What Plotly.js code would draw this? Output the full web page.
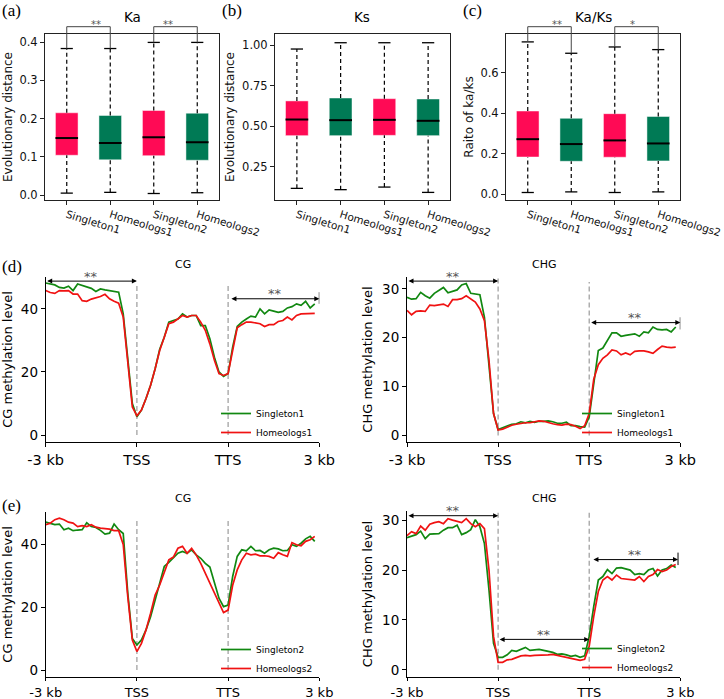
<!DOCTYPE html>
<html><head><meta charset="utf-8">
<script src="https://cdn.plot.ly/plotly-3.0.1.min.js"></script>
<style>body{margin:0;background:#fff}</style>
</head><body><div id="chart" style="width:724px;height:699px"></div>
<script>
// ---------- DATA ----------
const groups = ['Singleton1','Homeologs1','Singleton2','Homeologs2'];
const groupPos = [1,2,3,4];
// Ka box stats
const kaLow  = [0.005,0.007,0.004,0.006];
const kaQ1   = [0.104,0.092,0.103,0.091];
const kaMed  = [0.149,0.136,0.151,0.138];
const kaQ3   = [0.215,0.208,0.221,0.214];
const kaHigh = [0.383,0.383,0.399,0.399];
// Ks box stats
const ksLow  = [0.115,0.107,0.123,0.090];
const ksQ1   = [0.441,0.441,0.443,0.441];
const ksMed  = [0.541,0.537,0.539,0.533];
const ksQ3   = [0.656,0.674,0.670,0.668];
const ksHigh = [0.977,1.016,1.016,1.016];
// Ka/Ks box stats
const rLow  = [0.008,0.011,0.008,0.011];
const rQ1   = [0.183,0.162,0.182,0.164];
const rMed  = [0.271,0.247,0.265,0.250];
const rQ3   = [0.410,0.374,0.397,0.383];
const rHigh = [0.751,0.695,0.726,0.713];

// methylation profiles: 60 bins, -3kb..TSS (20), gene body (20), TTS..3kb (20)
const bins = [0,1,2,3,4,5,6,7,8,9,10,11,12,13,14,15,16,17,18,19,20,21,22,23,24,25,26,27,28,29,30,31,32,33,34,35,36,37,38,39,40,41,42,43,44,45,46,47,48,49,50,51,52,53,54,55,56,57,58,59];
const binTicks = [0,20,40,60];
const binLabels = ['-3 kb','TSS','TTS','3 kb'];

const cgSingleton1 = [48.2,47.9,47.6,46.8,46.6,47.2,45.8,47.9,47.5,47.1,46.5,45.5,46.3,46.0,45.8,45.5,45.3,38.4,23.7,10.0,5.8,
  7.9,11.6,15.8,21.0,27.2,31.0,35.8,36.3,36.8,38.4,37.4,37.9,37.9,34.7,34.7,30.5,24.7,20.0,18.6,19.5,
  27.9,34.4,35.8,36.8,37.7,37.4,40.0,38.4,39.7,39.3,38.9,39.2,40.3,40.7,41.6,41.1,42.4,40.3,41.6];
const cgHomeologs1 = [45.8,45.2,44.9,45.8,45.7,45.8,44.7,44.7,42.6,42.4,43.1,43.5,43.9,44.6,43.2,42.4,41.8,37.4,22.6,8.9,6.1,
  7.9,11.6,15.8,21.0,26.8,31.0,35.3,35.8,36.8,37.9,37.4,37.9,37.9,35.8,33.2,28.9,23.7,19.5,18.9,19.5,
  26.8,34.0,35.0,35.8,35.8,35.5,35.3,34.4,35.0,35.0,36.0,36.3,37.4,36.5,37.9,38.4,38.4,38.4,38.6];
const chgSingleton1 = [28.3,27.9,28.0,29.3,28.6,28.1,29.1,29.7,30.3,29.2,29.5,29.8,30.8,31.1,29.1,28.9,28.8,24.2,14.7,4.5,1.2,
  1.6,2.0,2.3,2.4,2.8,2.6,2.9,2.7,2.9,2.9,3.0,2.8,2.5,2.5,2.7,2.0,2.0,1.8,1.7,3.8,
  11.0,17.4,17.9,19.5,21.0,21.0,20.3,20.5,20.6,20.8,20.3,21.2,21.0,22.2,21.7,21.6,21.7,21.2,22.2];
const chgHomeologs1 = [25.6,24.7,25.4,25.5,25.4,26.7,26.6,26.8,26.9,26.4,27.8,27.8,28.0,28.6,28.0,27.3,25.9,23.5,15.4,4.5,1.1,
  1.3,1.7,2.1,2.3,2.5,2.6,2.6,2.8,3.0,2.9,2.6,2.4,2.2,2.1,2.3,2.2,1.9,1.4,2.0,4.5,
  11.5,14.5,15.8,16.5,17.5,17.3,16.5,16.9,16.5,17.2,17.3,17.3,17.1,16.8,17.6,18.3,18.1,18.0,18.1];
const cgSingleton2 = [47.1,46.8,46.3,46.5,44.7,45.2,44.4,44.6,44.7,46.9,45.7,45.4,44.5,43.3,43.6,46.5,44.7,43.5,24.5,10.1,8.0,
  9.6,12.8,17.0,22.3,27.7,33.0,34.3,35.6,37.2,37.8,37.2,38.3,36.7,35.6,34.0,32.8,27.7,22.9,20.2,20.7,
  29.8,36.2,38.3,38.0,39.4,38.0,38.1,37.2,38.3,38.8,38.6,38.0,38.1,39.9,39.4,40.4,41.8,42.6,41.0];
const cgHomeologs2 = [46.3,46.8,47.9,48.4,47.9,47.1,46.8,45.7,46.0,45.7,46.3,45.5,45.2,45.1,44.9,44.4,44.4,40.0,23.4,9.6,5.9,
  8.5,12.8,18.1,23.9,27.1,30.9,35.1,36.0,38.8,39.4,37.2,38.8,36.7,34.0,30.9,27.7,24.5,21.3,18.3,19.1,
  27.0,31.9,35.1,37.2,36.7,36.9,36.4,36.4,36.2,35.6,37.4,36.7,36.2,40.6,39.9,39.6,41.0,41.5,42.6];
const chgSingleton2 = [26.5,26.8,27.1,27.8,26.3,27.2,27.3,27.3,28.0,28.5,28.5,29.0,27.1,27.5,28.1,30.1,28.7,25.3,16.0,5.3,2.5,
  2.5,3.0,3.9,3.7,4.1,4.5,3.9,4.0,4.1,3.9,3.7,3.5,3.1,3.2,3.0,2.7,2.9,2.5,2.8,6.7,
  12.7,18.0,18.7,20.1,19.3,20.4,20.5,20.3,20.0,19.1,19.3,19.1,20.0,20.3,18.8,20.0,20.3,21.0,20.5];
const chgHomeologs2 = [26.9,27.7,27.3,28.8,28.0,29.2,29.5,29.7,29.3,30.3,30.0,29.8,29.5,30.3,29.3,28.7,29.3,28.3,20.0,6.7,1.5,
  1.5,2.0,2.1,2.5,2.8,2.9,2.8,2.9,2.9,3.0,3.0,3.1,2.9,2.7,2.5,2.3,2.0,1.9,2.1,4.7,
  10.7,15.7,18.0,18.7,18.0,19.0,18.3,18.2,18.2,18.0,18.7,17.7,18.7,19.1,20.1,19.7,20.0,20.7,21.1];

// ---------- LAYOUT HELPERS ----------
const W = 724, H = 699;
const fx = p => p / W;
const fy = p => 1 - p / H;
const FONT = 'DejaVu Sans';
const PINK = '#FF0A55', TEAL = '#007A55';
const boxColors = [PINK, TEAL, PINK, TEAL];
const GREEN = '#118811', RED = '#F01212';

const traces = [];
const shapes = [];
const annotations = [];

function addBoxes(n, low, q1, med, q3, high) {
  const xa = 'x' + (n === 1 ? '' : n), ya = 'y' + (n === 1 ? '' : n);
  traces.push({type:'bar', x:groupPos, base:q1, y:q3.map((v,i)=>v-q1[i]), width:0.52,
    marker:{color:boxColors, line:{color:'rgba(255,255,255,0.6)', width:0.8}},
    xaxis:xa, yaxis:ya, showlegend:false, hoverinfo:'skip'});
  const wx=[], wy=[], cx=[], cy=[], mx=[], my=[];
  groupPos.forEach((p,i)=>{
    wx.push(p,p,null,p,p,null); wy.push(low[i],q1[i],null,q3[i],high[i],null);
    cx.push(p-0.14,p+0.14,null,p-0.14,p+0.14,null); cy.push(low[i],low[i],null,high[i],high[i],null);
    mx.push(p-0.26,p+0.26,null); my.push(med[i],med[i],null);
  });
  traces.push({type:'scatter', mode:'lines', x:wx, y:wy, line:{color:'#000', width:1.2, dash:'4px,3px'}, xaxis:xa, yaxis:ya, showlegend:false, hoverinfo:'skip'});
  traces.push({type:'scatter', mode:'lines', x:cx, y:cy, line:{color:'#000', width:1.3}, xaxis:xa, yaxis:ya, showlegend:false, hoverinfo:'skip'});
  traces.push({type:'scatter', mode:'lines', x:mx, y:my, line:{color:'#000', width:2}, xaxis:xa, yaxis:ya, showlegend:false, hoverinfo:'skip'});
}

function bracket(n, i, j, capI, capJ, yr, label) {
  const xr = [0.5, 4.5];
  const xs = 'x' + (n === 1 ? '' : n) + ' domain', ys = 'y' + (n === 1 ? '' : n) + ' domain';
  const xf = v => (v - xr[0]) / (xr[1] - xr[0]);
  const yf = v => (v - yr[0]) / (yr[1] - yr[0]);
  const top = 1.044;
  const ln = {color:'#444', width:1};
  shapes.push({type:'line', xref:xs, yref:ys, x0:xf(groupPos[i]), x1:xf(groupPos[i]), y0:yf(capI), y1:top, line:ln});
  shapes.push({type:'line', xref:xs, yref:ys, x0:xf(groupPos[j]), x1:xf(groupPos[j]), y0:yf(capJ), y1:top, line:ln});
  shapes.push({type:'line', xref:xs, yref:ys, x0:xf(groupPos[i]), x1:xf(groupPos[j]), y0:top, y1:top, line:ln});
  annotations.push({xref:xs, yref:ys, x:(xf(groupPos[i])+xf(groupPos[j]))/2, y:top, yanchor:'middle', yshift:2,
    text:label, showarrow:false, font:{family:FONT, size:10, color:'#555'}});
}

function addLines(n, leg, sName, sVals, hName, hVals) {
  const xa = 'x' + n, ya = 'y' + n;
  traces.push({type:'scatter', mode:'lines', x:bins, y:sVals, name:sName, xaxis:xa, yaxis:ya, legend:leg,
    line:{color:GREEN, width:1.7}, hoverinfo:'skip'});
  traces.push({type:'scatter', mode:'lines', x:bins, y:hVals, name:hName, xaxis:xa, yaxis:ya, legend:leg,
    line:{color:RED, width:1.7}, hoverinfo:'skip'});
}

function vlines(n, top1, top2) {
  [[20, top1],[40, top2]].forEach(([x, t])=>{
    shapes.push({type:'line', xref:'x'+n, yref:'y'+n, x0:x, x1:x, y0:0, y1:t,
      line:{color:'#9a9a9a', width:1.2, dash:'5px,3px'}, layer:'below'});
  });
}

function sigArrow(n, x0, x1, y, bar) {
  annotations.push({xref:'x'+n, yref:'y'+n, axref:'x'+n, ayref:'y'+n, x:x1, y:y, ax:x0, ay:y,
    text:'', showarrow:true, arrowhead:2, arrowside:'end+start', arrowsize:1, arrowwidth:1,
    arrowcolor:'#000', standoff:0, startstandoff:0});
  annotations.push({xref:'x'+n, yref:'y'+n, x:(x0+x1)/2, y:y, yanchor:'middle', yshift:5, text:'**',
    showarrow:false, font:{family:FONT, size:13, color:'#555'}});
  if (bar) {
    shapes.push({type:'line', xref:'x'+n, yref:'y'+n, x0:x1, x1:x1, y0:bar[0], y1:bar[1], line:{color:'#000', width:1}});
  }
}

// ---------- TRACES ----------
const kaRange = [-0.013, 0.421];
const ksRange = [0.043, 1.07];
const rRange = [-0.029, 0.79];
addBoxes(1, kaLow, kaQ1, kaMed, kaQ3, kaHigh);
addBoxes(2, ksLow, ksQ1, ksMed, ksQ3, ksHigh);
addBoxes(3, rLow, rQ1, rMed, rQ3, rHigh);
bracket(1, 0, 1, kaHigh[0], kaHigh[1], kaRange, '**');
bracket(1, 2, 3, kaHigh[2], kaHigh[3], kaRange, '**');
bracket(3, 0, 1, rHigh[0], rHigh[1], rRange, '**');
bracket(3, 2, 3, rHigh[2], rHigh[3], rRange, '*');

addLines(4, 'legend', 'Singleton1', cgSingleton1, 'Homeologs1', cgHomeologs1);
addLines(5, 'legend2', 'Singleton1', chgSingleton1, 'Homeologs1', chgHomeologs1);
addLines(6, 'legend3', 'Singleton2', cgSingleton2, 'Homeologs2', cgHomeologs2);
addLines(7, 'legend4', 'Singleton2', chgSingleton2, 'Homeologs2', chgHomeologs2);

vlines(4, 47.9, 47.9);
vlines(5, 32.5, 31.4);
vlines(6, 48.1, 48.1);
vlines(7, 31.7, 31.7);

sigArrow(4, 0, 20, 48.8);
sigArrow(4, 40.4, 60, 43.2, [41.6, 45.3]);
sigArrow(5, 0, 20, 31.6);
sigArrow(5, 40.1, 60, 23.1, [21.7, 24.2]);
sigArrow(7, 0, 20, 30.9);
sigArrow(7, 20, 40, 6.1);
sigArrow(7, 40.6, 59.5, 22.1, [21.0, 23.5]);

// ---------- AXES ----------
function boxX(x0, x1) {
  return {domain:[fx(x0), fx(x1)], range:[0.5,4.5], tickvals:groupPos, ticktext:groups, tickangle:17,
    showline:true, mirror:true, linecolor:'#222', linewidth:1, ticks:'outside', ticklen:4, tickwidth:1,
    tickcolor:'#222', tickfont:{family:FONT, size:10.5, color:'#111'}, showgrid:false, zeroline:false};
}
function boxY(range, tv, fmt, title, anchorX) {
  return {domain:[fy(200), fy(34)], range:range, tickvals:tv, tickformat:fmt, anchor:anchorX,
    showline:true, mirror:true, linecolor:'#222', linewidth:1, ticks:'outside', ticklen:4, tickwidth:1,
    tickcolor:'#222', tickfont:{family:FONT, size:11.5, color:'#111'}, showgrid:false, zeroline:false,
    title:{text:title, font:{family:FONT, size:12, color:'#111'}, standoff:4}};
}
function lineX(x0, x1, anchorY, fsize, tlen) {
  return {domain:[fx(x0), fx(x1)], range:[0,60], tickvals:binTicks, ticktext:binLabels, anchor:anchorY,
    showline:true, linecolor:'#000', linewidth:1, ticks:'outside', ticklen:tlen, tickwidth:1, tickcolor:'#000',
    tickfont:{family:FONT, size:fsize, color:'#000'}, showgrid:false, zeroline:false};
}
function lineY(y0, y1, range, tv, title, anchorX) {
  return {domain:[fy(y1), fy(y0)], range:range, tickvals:tv, anchor:anchorX,
    showline:true, linecolor:'#000', linewidth:1, ticks:'outside', ticklen:4, tickwidth:1, tickcolor:'#000',
    tickfont:{family:FONT, size:13.5, color:'#000'}, showgrid:false, zeroline:false,
    title:{text:title, font:{family:FONT, size:13, color:'#000'}, standoff:6}};
}

function legendAt(xPx, yPx) {
  return {x:fx(xPx), y:fy(yPx), xanchor:'left', yanchor:'top', bgcolor:'rgba(0,0,0,0)',
    font:{family:FONT, size:9, color:'#000'}, tracegroupgap:0, itemwidth:30};
}

// titles & panel labels
function paperText(text, xPx, yPx, size, family, xanchor) {
  annotations.push({xref:'paper', yref:'paper', x:fx(xPx), y:fy(yPx), xanchor:xanchor||'center', yanchor:'middle',
    text:text, showarrow:false, font:{family:family||FONT, size:size, color:'#000'}});
}
paperText('Ka', 132, 17, 13.5);
paperText('Ks', 362, 17, 13.5);
paperText('Ka/Ks', 593, 17, 13.5);
paperText('CG', 182.5, 264, 11);
paperText('CHG', 543.5, 264, 11);
paperText('CG', 182.5, 498, 11);
paperText('CHG', 543.5, 498, 11);
paperText('(a)', 0, 11, 17, 'Liberation Serif', 'left');
paperText('(b)', 220, 11, 17, 'Liberation Serif', 'left');
paperText('(c)', 461, 11, 17, 'Liberation Serif', 'left');
paperText('(d)', 0, 267, 17, 'Liberation Serif', 'left');
paperText('(e)', 0, 505, 17, 'Liberation Serif', 'left');

const layout = {
  width:W, height:H, margin:{l:0,r:0,t:0,b:0}, paper_bgcolor:'#fff', plot_bgcolor:'#fff',
  font:{family:FONT}, showlegend:true,
  xaxis: boxX(45, 219), yaxis: boxY(kaRange, [0,0.1,0.2,0.3,0.4], '.1f', 'Evolutionary distance', 'x'),
  xaxis2: Object.assign(boxX(275, 450), {anchor:'y2'}), yaxis2: boxY(ksRange, [0.25,0.5,0.75,1.0], '.2f', 'Evolutionary distance', 'x2'),
  xaxis3: Object.assign(boxX(506, 680), {anchor:'y3'}), yaxis3: boxY(rRange, [0,0.2,0.4,0.6], '.1f', 'Raito of ka/ks', 'x3'),
  xaxis4: lineX(45.7, 319.3, 'y4', 14.5, 4), yaxis4: lineY(276.7, 442.3, [-2.3, 50.2], [0,20,40], 'CG methylation level', 'x4'),
  xaxis5: lineX(407, 680.3, 'y5', 14.5, 4), yaxis5: lineY(276.7, 442.3, [-1.4, 32.5], [0,10,20,30], 'CHG methylation level', 'x5'),
  xaxis6: lineX(45.7, 319.3, 'y6', 13, 3), yaxis6: lineY(511.5, 677.3, [-2.3, 50.5], [0,20,40], 'CG methylation level', 'x6'),
  xaxis7: lineX(407, 680.3, 'y7', 13, 3), yaxis7: lineY(510.7, 677.3, [-1.5, 31.9], [0,10,20,30], 'CHG methylation level', 'x7'),
  legend: legendAt(216, 399),
  legend2: legendAt(577, 399),
  legend3: legendAt(216, 635),
  legend4: legendAt(577, 634),
  shapes: shapes,
  annotations: annotations
};

Plotly.newPlot('chart', traces, layout, {staticPlot:true, displayModeBar:false});
</script>
</body></html>
